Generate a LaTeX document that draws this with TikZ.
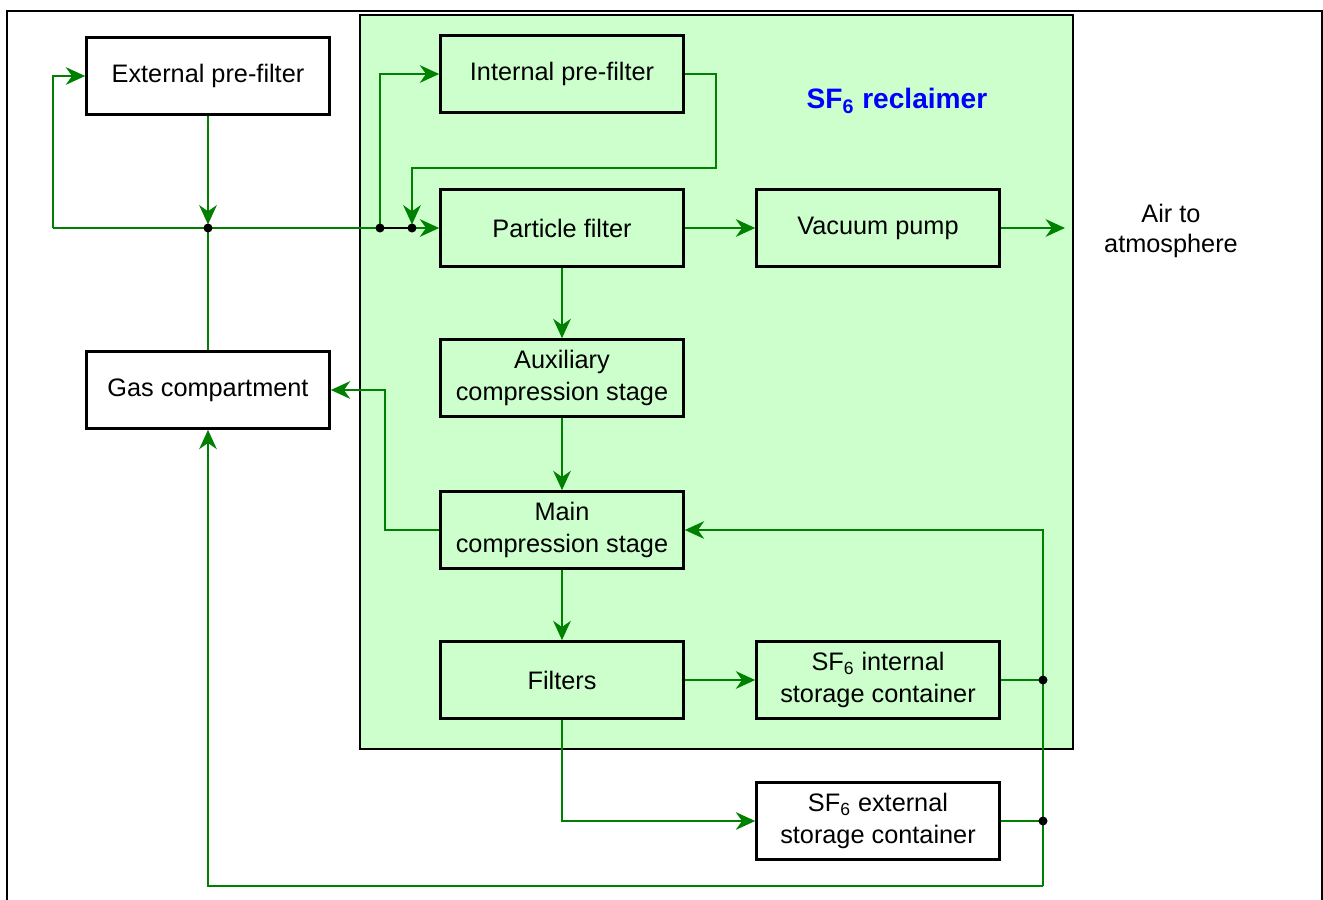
\documentclass[tikz,border=0pt]{standalone}
\usepackage{fontspec}
\setmainfont{Liberation Sans}
\usetikzlibrary{arrows.meta}
\definecolor{flowgreen}{RGB}{0,128,0}
\definecolor{reclaimgreen}{RGB}{204,255,204}
\definecolor{titleblue}{RGB}{0,0,255}

\begin{document}
\begin{tikzpicture}[x=0.02cm, y=-0.02cm,
  >={Stealth[length=11pt,width=10pt,inset=3.5pt]},
  unit/.style={draw, line width=1.5pt, minimum width=4.86cm, minimum height=1.54cm,
    align=center, inner sep=0pt, font=\fontsize{14.4}{18}\selectfont},
  flow/.style={flowgreen, line width=1.3pt},
  dot/.style={black}]

\useasboundingbox (0,0) rectangle (1323,900);

% outer frame (open at the bottom)
\draw[line width=1.2pt] (7,910) -- (7,11) -- (1322,11) -- (1322,910);

%==== SF6 reclaimer ====
\draw[line width=1.5pt, fill=reclaimgreen] (360,15) rectangle (1073,749);
\node[titleblue, font=\bfseries\fontsize{16}{19}\selectfont] (title) at (897,101)
  {SF\textsubscript{6} reclaimer};

%==== units ====
\node[unit] (extpre)   at (208,76)  {External pre-filter};
\node[unit] (gascomp)  at (208,390) {Gas compartment};
\node[unit] (intpre)   at (562,74)  {Internal pre-filter};
\node[unit] (partf)    at (562,228) {Particle filter};
\node[unit] (vacpump)  at (878,228) {Vacuum pump};
\node[unit] (auxcomp)  at (562,378) {Auxiliary\\compression stage};
\node[unit] (maincomp) at (562,530) {Main\\compression stage};
\node[unit] (filters)  at (562,680) {Filters};
\node[unit] (intstore) at (878,680) {SF\textsubscript{6} internal\\storage container};
\node[unit] (extstore) at (878,821) {SF\textsubscript{6} external\\storage container};
\node[align=center, font=\fontsize{14.4}{17}\selectfont] (air) at (1171,231)
  {Air to\\atmosphere};

%==== junctions ====
\coordinate (loopL)   at (53,228);
\coordinate (jext)    at (208,228);
\coordinate (jin)     at (380,228);
\coordinate (jsw)     at (412,228);
\coordinate (ipBend)  at (716,168);
\coordinate (mcBend)  at (385,530);
\coordinate (airend)  at (1065,228);
\coordinate (jint)    at (1043,680);
\coordinate (jextst)  at (1043,821);
\coordinate (retBot)  at (1043,886);

%==== gas flow ====
\draw[flow] (jin) -- (loopL);
\draw[flow,->] (loopL) |- (extpre.west);
\draw[flow,->,shorten >=2pt] (extpre.south) -- (jext);
\draw[flow] (gascomp.north) -- (jext);
\draw[flow,->] (jin) |- (intpre.west);
\draw[line width=1.3pt] (jin) -- (jsw);
\draw[flow,->] (jsw) -- (partf.west);
\draw[flow,->,shorten >=2pt] (intpre.east) -| (ipBend) -| (jsw);
\draw[flow,->] (partf) -- (vacpump);
\draw[flow,->] (vacpump) -- (airend);
\draw[flow,->] (partf) -- (auxcomp);
\draw[flow,->] (auxcomp) -- (maincomp);
\draw[flow,->] (maincomp) -- (filters);
\draw[flow,->] (maincomp.west) -- (mcBend) |- (gascomp.east);
\draw[flow,->] (filters) -- (intstore);
\draw[flow,->] (filters.south) |- (extstore.west);
\draw[flow] (intstore.east) -- (jint);
\draw[flow] (extstore.east) -- (jextst);
\draw[flow,->] (retBot) |- (maincomp.east);
\draw[flow,->] (retBot) -| (gascomp.south);

% junction dots
\foreach \j in {jext,jin,jsw,jint,jextst}
  \fill[dot] (\j) circle (4.5);

\end{tikzpicture}
\end{document}
